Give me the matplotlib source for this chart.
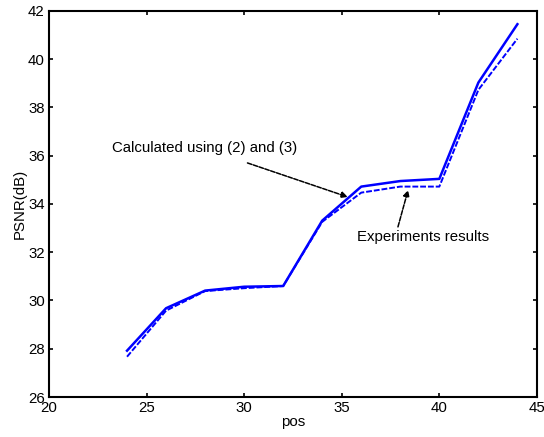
import matplotlib
matplotlib.use('Agg')
import matplotlib.pyplot as plt

pos = [24, 26, 28, 30, 32, 34, 36, 38, 40, 42, 44]
psnr_calc = [27.92, 29.68, 30.41, 30.57, 30.60, 33.31, 34.72, 34.95, 35.04, 39.03, 41.45]
psnr_exp = [27.67, 29.58, 30.39, 30.51, 30.60, 33.26, 34.47, 34.72, 34.72, 38.73, 40.85]

plt.rcParams['font.family'] = ['Liberation Sans', 'DejaVu Sans']
plt.rcParams['font.size'] = 10.8

fig = plt.figure(figsize=(5.44, 4.37), dpi=100)
ax = fig.add_axes([0.090, 0.0915, 0.897, 0.8835])

ax.plot(pos, psnr_calc, color='#0000ff', lw=1.8)
ax.plot(pos, psnr_exp, color='#0000ff', lw=1.4, linestyle=(0, (3, 1)))

# annotations: text and arrows placed separately
arrow = dict(arrowstyle='-|>', color='black', lw=1.1, linestyle=(0, (3, 1)),
             mutation_scale=9, shrinkA=0, shrinkB=0)
ax.text(23.24, 36.32, 'Calculated using (2) and (3)', va='center', ha='left')
ax.annotate('', xy=(35.31, 34.29), xytext=(30.17, 35.70), arrowprops=arrow)
ax.text(35.78, 32.63, 'Experiments results', va='center', ha='left')
ax.annotate('', xy=(38.40, 34.58), xytext=(37.88, 33.05), arrowprops=arrow)

ax.set_xlim(20, 45)
ax.set_ylim(26, 42)
ax.set_xticks(range(20, 46, 5))
ax.set_yticks(range(26, 43, 2))
ax.tick_params(direction='in', top=True, right=True, width=1.2, length=3, pad=3)
for s in ax.spines.values():
    s.set_linewidth(1.5)

ax.set_xlabel('pos', labelpad=0)
ax.set_ylabel('PSNR(dB)', labelpad=1)

fig.savefig('out.png', dpi=100)
